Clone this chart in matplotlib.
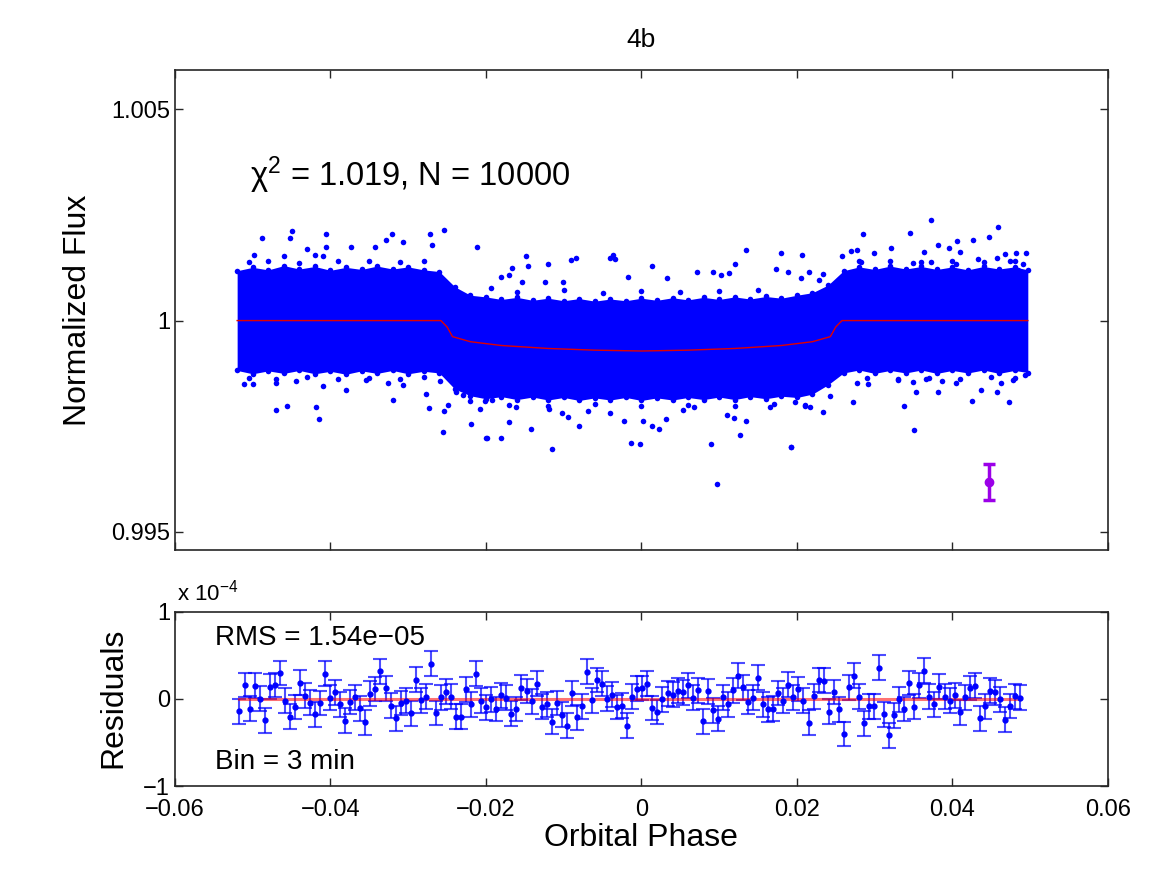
import numpy as np
import matplotlib.pyplot as plt

plt.rcParams['font.family'] = ['Liberation Sans', 'DejaVu Sans']
plt.rcParams['mathtext.fontset'] = 'custom'
plt.rcParams['mathtext.rm'] = 'Liberation Sans'
plt.rcParams['mathtext.it'] = 'Liberation Sans'

# dense part of the light curve (ragged outline of the solid cloud)
band_phase = [-0.052, -0.050, -0.048, -0.046, -0.044, -0.042, -0.040, -0.038, -0.036, -0.034,
              -0.032, -0.030, -0.028, -0.026, -0.024, -0.022, -0.020, -0.018, -0.016, -0.014,
              -0.012, -0.010, -0.008, -0.006, -0.004, -0.002, 0.000, 0.002, 0.004, 0.006,
              0.008, 0.010, 0.012, 0.014, 0.016, 0.018, 0.020, 0.022, 0.024, 0.026,
              0.028, 0.030, 0.032, 0.034, 0.036, 0.038, 0.040, 0.042, 0.044, 0.046,
              0.048, 0.0497]
band_hi = [1.00118, 1.00126, 1.00120, 1.00130, 1.00122, 1.00128, 1.00119, 1.00126, 1.00121, 1.00129,
           1.00122, 1.00127, 1.00120, 1.00116, 1.00080, 1.00060, 1.00056, 1.00050, 1.00055, 1.00048,
           1.00053, 1.00047, 1.00052, 1.00046, 1.00051, 1.00047, 1.00053, 1.00048, 1.00054, 1.00049,
           1.00055, 1.00050, 1.00056, 1.00051, 1.00057, 1.00053, 1.00060, 1.00066, 1.00084, 1.00118,
           1.00127, 1.00121, 1.00129, 1.00122, 1.00128, 1.00121, 1.00127, 1.00120, 1.00128, 1.00122,
           1.00127, 1.00120]
band_lo = [0.99882, 0.99874, 0.99881, 0.99875, 0.99882, 0.99874, 0.99880, 0.99873, 0.99881, 0.99875,
           0.99882, 0.99874, 0.99880, 0.99876, 0.99838, 0.99822, 0.99815, 0.99820, 0.99813, 0.99819,
           0.99812, 0.99818, 0.99811, 0.99817, 0.99812, 0.99818, 0.99811, 0.99817, 0.99812, 0.99818,
           0.99813, 0.99819, 0.99813, 0.99820, 0.99815, 0.99821, 0.99818, 0.99826, 0.99848, 0.99876,
           0.99883, 0.99875, 0.99882, 0.99876, 0.99883, 0.99875, 0.99882, 0.99876, 0.99883, 0.99875,
           0.99882, 0.99877]

# scattered points outside the dense cloud
fringe_phase = [
    -0.0488, -0.0450, -0.0452, -0.0406, -0.0406, -0.0430, -0.0373, -0.0321, -0.0328, -0.0307,
    -0.0343, -0.0272, -0.0254, -0.0270, -0.0211, -0.0498, -0.0420, -0.0410, -0.0460,
    -0.0149, -0.0146, -0.0166, -0.0120, -0.0090, -0.0084, -0.0041, -0.0037, -0.0034, 0.0014,
    -0.0017, -0.0181, 0.0134, 0.0121, 0.0179, 0.0207, 0.0173, 0.0071, 0.0092, 0.0113,
    0.0102, 0.0033, 0.0189, -0.0101, -0.0124, -0.0153, -0.0170, -0.0194,
    0.0372, 0.0459, 0.0285, 0.0346, 0.0447, 0.0426, 0.0406, 0.0381, 0.0321, 0.0395,
    0.0277, 0.0270, 0.0364, 0.0482, 0.0495, 0.0468, 0.0299, 0.0410, 0.0258, 0.0433,
    0.0458, 0.0349, 0.0373, 0.0404, 0.0474, 0.0485, 0.0491, 0.0282, 0.0234, 0.0215,
    0.0205, 0.0228,
    -0.0505, -0.0480, -0.0440, -0.0390, -0.0350, -0.0310, -0.0280,
    0.0280, 0.0320, 0.0360, 0.0400, 0.0440, 0.0480,
    -0.0160, -0.0100, -0.0050, 0.0, 0.0050, 0.0100, 0.0150,
    -0.0470, -0.0456, -0.0419, -0.0415, -0.0380, -0.0409, -0.0444, -0.0470, -0.0499, -0.0511,
    -0.0319, -0.0354, -0.0326, -0.0307, -0.0277, -0.0273, -0.0255, -0.0254, -0.0249, -0.0259,
    -0.0219, -0.0199, -0.0208, -0.0239, -0.0221, -0.0201, -0.0192, -0.0229,
    -0.0200, -0.0180, -0.0142, -0.0170, -0.0115, -0.0080, -0.0102, -0.0094, -0.0023, -0.0013,
    -0.0002, 0.0002, 0.0013, 0.0023, 0.0032, 0.0097, 0.0089, 0.0127, 0.0134, 0.0119,
    0.0192, 0.0110, 0.0165, -0.0041, -0.0069, -0.0119, -0.0161, 0.0054, 0.0068, 0.0210,
    0.0193, 0.0234, 0.0217, 0.0211, 0.0198, 0.0243, 0.0272, 0.0338, 0.0351, 0.0353,
    0.0382, 0.0425, 0.0437, 0.0458, 0.0473, 0.0462, 0.0291, 0.0277, 0.0330, 0.0349,
    0.0366, 0.0387, 0.0404, 0.0478, 0.0494,
    -0.0505, -0.0470, -0.0430, -0.0390, -0.0350, -0.0310, -0.0280,
    0.0290, 0.0330, 0.0370, 0.0410, 0.0450, 0.0480,
    -0.0170, -0.0120, -0.0060, 0.0, 0.0060, 0.0120, 0.0170,
]
fringe_flux = [
    1.00196, 1.00211, 1.00196, 1.00206, 1.00174, 1.00170, 1.00174, 1.00205, 1.00191, 1.00185,
    1.00175, 1.00205, 1.00215, 1.00179, 1.00174, 1.00156, 1.00156, 1.00153, 1.00152,
    1.00152, 1.00130, 1.00125, 1.00135, 1.00144, 1.00148, 1.00148, 1.00156, 1.00146, 1.00130,
    1.00103, 1.00102, 1.00166, 1.00135, 1.00160, 1.00155, 1.00123, 1.00114, 1.00115, 1.00113,
    1.00109, 1.00100, 1.00116, 1.00092, 1.00091, 1.00092, 1.00107, 1.00078,
    1.00238, 1.00221, 1.00204, 1.00207, 1.00197, 1.00191, 1.00188, 1.00179, 1.00171, 1.00172,
    1.00167, 1.00165, 1.00163, 1.00161, 1.00159, 1.00158, 1.00159, 1.00162, 1.00152, 1.00146,
    1.00148, 1.00137, 1.00139, 1.00134, 1.00140, 1.00120, 1.00134, 1.00139, 1.00111, 1.00114,
    1.00100, 1.00096,
    1.00138, 1.00141, 1.00137, 1.00140, 1.00142, 1.00138, 1.00140,
    1.00140, 1.00142, 1.00138, 1.00141, 1.00139, 1.00142,
    1.00068, 1.00072, 1.00065, 1.00070, 1.00068, 1.00071, 1.00073,
    0.99788, 0.99798, 0.99796, 0.99767, 0.99836, 0.99846, 0.99856, 0.99853, 0.99851, 0.99849,
    0.99813, 0.99860, 0.99852, 0.99848, 0.99827, 0.99792, 0.99736, 0.99785, 0.99800, 0.99856,
    0.99756, 0.99722, 0.99791, 0.99830, 0.99809, 0.99809, 0.99812, 0.99824,
    0.99723, 0.99722, 0.99744, 0.99760, 0.99696, 0.99750, 0.99781, 0.99771, 0.99763, 0.99710,
    0.99709, 0.99763, 0.99751, 0.99744, 0.99766, 0.99613, 0.99708, 0.99730, 0.99763, 0.99769,
    0.99700, 0.99777, 0.99795, 0.99782, 0.99787, 0.99790, 0.99796, 0.99789, 0.99796, 0.99800,
    0.99700, 0.99784, 0.99796, 0.99799, 0.99808, 0.99822, 0.99808, 0.99799, 0.99741, 0.99830,
    0.99832, 0.99810, 0.99836, 0.99830, 0.99808, 0.99852, 0.99849, 0.99852, 0.99859, 0.99854,
    0.99862, 0.99857, 0.99852, 0.99860, 0.99871,
    0.99865, 0.99862, 0.99866, 0.99861, 0.99864, 0.99862, 0.99866,
    0.99864, 0.99861, 0.99865, 0.99862, 0.99866, 0.99863,
    0.99800, 0.99797, 0.99802, 0.99798, 0.99801, 0.99797, 0.99803,
]

# transit model
model_phase = [-0.0520, -0.0258, -0.0250, -0.0243, -0.0220, -0.0180, -0.0120, -0.0060, 0.0,
               0.0060, 0.0120, 0.0180, 0.0220, 0.0243, 0.0250, 0.0258, 0.0497]
model_flux = [1.0, 1.0, 0.99985, 0.99962, 0.99950, 0.99941, 0.99934, 0.99930, 0.99928,
              0.99930, 0.99934, 0.99941, 0.99950, 0.99962, 0.99985, 1.0, 1.0]

# typical single point error
err_phase = 0.0447
err_flux = 0.99619
err_size = 0.000426

# binned residuals (units of 1e-5)
res_vals = [
    -1.43, 1.59, -1.12, 1.51, 0.04, -2.44, 1.40, 1.59, 2.98, -0.19,
    -2.05, -0.93, 1.86, 0.35, -0.43, -1.78, -0.47, 2.91, 0.12, 0.74,
    -0.62, -2.52, -0.35, 0.19, -1.09, -2.71, 0.58, 1.12, 3.14, 1.20,
    -0.78, -2.25, -0.47, -0.23, -1.67, 2.21, -0.16, 0.23, 4.03, -1.63,
    0.19, 0.81, 0.27, -2.05, -2.05, 1.09, -0.62, 2.87, -0.19, -0.97,
    -0.04, -1.16,
    0.39, 0.12, -1.71, -1.16, 1.28, 0.89, -0.27, 1.74, -0.89, -0.62,
    -2.64, -0.47, -1.82, -3.06, 0.62, -2.13, -0.85, 3.10, -0.16, 2.17,
    1.74, 0.04, 0.47, -0.93, -0.78, -3.06, 0.27, 1.16, 1.24, 1.74,
    -1.05, -1.51, -0.04, 0.62, 0.47, 0.93, 0.74, 1.55, 0.12, 0.97,
    -2.56, 0.85, -1.32, -2.29, 0.19, -0.62, 0.97, 2.67, 1.32, -0.35,
    0.12, 2.44, -0.62, -1.20, -1.12, 0.66, -0.23, 1.63, 0.16, 1.12,
    -0.19, -2.75,
    0.31, 2.17, 2.09, -1.47, 0.78, -1.20, -4.03, 1.32, 2.64, 0.23,
    -2.79, -0.85, -0.85, 3.57, -1.78, -4.19, -1.90, -0.04, -1.16, 1.82,
    -0.89, 1.55, 3.22, 0.23, -0.62, 1.40, 0.23, -0.19, 0.39, -1.55,
    0.16, 1.24, 1.51, -2.25, -0.85, 0.93, 0.74, -0.04, -2.40, -0.81,
    0.31, 0.12,
]
res_phase = np.linspace(-0.0517, 0.0487, len(res_vals))
res_err = 1.42e-5

xticks = [-0.06, -0.04, -0.02, 0, 0.02, 0.04, 0.06]
xticklabels = ['\u22120.06', '\u22120.04', '\u22120.02', '0', '0.02', '0.04', '0.06']

fig = plt.figure(figsize=(11.64, 8.75), dpi=100)
ax1 = fig.add_axes([0.1503, 0.3714, 0.8015, 0.5486])
ax2 = fig.add_axes([0.1503, 0.1017, 0.8015, 0.1992])

blue = '#0000ff'
ax1.fill_between(band_phase, band_lo, band_hi, color=blue, lw=0)
ax1.plot(band_phase, band_hi, 'o', color=blue, ms=4, mec='none')
ax1.plot(band_phase, band_lo, 'o', color=blue, ms=4, mec='none')
ax1.plot(fringe_phase, fringe_flux, 'o', color=blue, ms=4, mec='none')
ax1.plot(model_phase, model_flux, color='#e00000', lw=1)
ax1.errorbar([err_phase], [err_flux], yerr=err_size, fmt='o', color='#9b00e8', ms=6,
             lw=2.5, capsize=4, capthick=2.5)
ax1.set_xlim(-0.06, 0.06)
ax1.set_ylim(0.99457, 1.00593)
ax1.set_xticks(xticks)
ax1.set_yticks([0.995, 1.0, 1.005])
ax1.set_yticklabels(['0.995', '1', '1.005'])
ax1.tick_params(labelbottom=False)
ax1.text(0.0804, 0.781, '\u03c7$^{2}$ = 1.019, N = 10000', transform=ax1.transAxes,
         fontsize=23.5, va='center', ha='left')

ax2.errorbar(res_phase, np.array(res_vals) * 1e-5, yerr=res_err, fmt='o', ms=3.5,
             color=blue, ecolor=(0, 0, 1, 0.7), elinewidth=1.5, capsize=5, capthick=1.5)
ax2.plot([res_phase[0], res_phase[-1]], [0, 0], color=(1, 0, 0, 0.55), lw=2.2)
ax2.set_xlim(-0.06, 0.06)
ax2.set_ylim(-1e-4, 1e-4)
ax2.set_xticks(xticks)
ax2.set_xticklabels(xticklabels)
ax2.set_yticks([-1e-4, 0, 1e-4])
ax2.set_yticklabels(['\u22121', '0', '1'])
ax2.text(0.0429, 0.849, 'RMS = 1.54e\u221205', transform=ax2.transAxes, fontsize=20,
         va='center', ha='left')
ax2.text(0.0429, 0.138, 'Bin = 3 min', transform=ax2.transAxes, fontsize=20,
         va='center', ha='left')

for ax in (ax1, ax2):
    ax.tick_params(direction='in', length=6, width=1, top=True, right=True, labelsize=17,
                   colors='#262626', labelcolor='black')
    ax.tick_params(axis='x', pad=9)
    for sp in ax.spines.values():
        sp.set_linewidth(1.2)
        sp.set_color('#262626')

fig.text(641 / 1164, 1 - 40 / 875, '4b', fontsize=19, ha='center', va='center')
fig.text(78 / 1164, 1 - 310 / 875, 'Normalized Flux', fontsize=23, rotation=90,
         ha='center', va='center')
fig.text(113 / 1164, 1 - 698 / 875, 'Residuals', fontsize=23, rotation=90,
         ha='center', va='center')
fig.text(641 / 1164, 1 - 838 / 875, 'Orbital Phase', fontsize=23, ha='center', va='center')
fig.text(177 / 1164, 1 - 593 / 875, 'x 10$^{\u22124}$', fontsize=16, ha='left', va='center')

fig.savefig('out.png', dpi=100)
